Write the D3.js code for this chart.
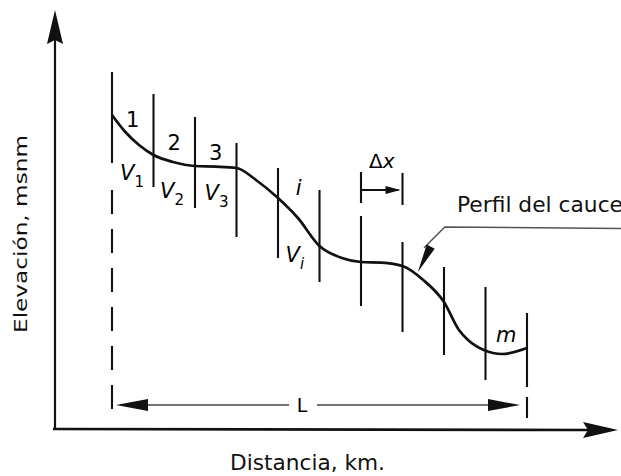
<!DOCTYPE html>
<html><head><meta charset="utf-8">
<script src="https://cdn.jsdelivr.net/npm/d3@7"></script>
<style>html,body{margin:0;padding:0;background:#fff;overflow:hidden}</style>
</head><body>
<svg id="c" width="621" height="476"></svg>
<script>
// ---- data ----
const stations = [0,1,2,3,4,5,6,7,8,9,10];           // station index (Δx units)
const sectionTop    = [89.25,83.75,78,71.5,65.25,59.75,53.25,46.75,40.5,35.5,29];
const sectionBottom = [66.5,60.5,55.25,48,42.75,36.75,30.75,24.25,18.5,12.25,10.5];
const profileKm   = [0,0.3,0.65,1,1.47,2,2.5,3,3.47,4,4.48,5,5.54,6,6.5,7,7.5,8,8.36,8.58,8.96,9.4,10];
const profileElev = [78.5,74.5,71,68.5,66.75,65.75,65.6,65.25,62.25,57.75,52.75,45.75,42.75,41.75,41.6,40.75,37.25,31.75,24.75,22.25,19.75,18.75,20.25];
const segmentLabels = ["1","2","3","i","m"];
const segmentAt     = [0.5,1.5,2.5,4.5,9.5];
const volumeSubs    = ["1","2","3","i"];
const volumeAt      = [0,1,2,4];
const xTitle = "Distancia, km.";
const yTitle = "Elevación, msnm";
const profileTitle = "Perfil del cauce";

// ---- layout ----
const axisX0 = 55, axisY0 = 429;
const x = d3.scaleLinear().domain([0,10]).range([112,527]);
const y = d3.scaleLinear().domain([0,100]).range([429,29]);
const svg = d3.select("#c");
const FONT = "DejaVu Sans, Liberation Sans, Arial, sans-serif";

// axes
svg.append("line").attr("x1",axisX0).attr("y1",axisY0+1).attr("x2",axisX0).attr("y2",40)
  .attr("stroke","#111").attr("stroke-width",2.2);
svg.append("path").attr("d",`M${axisX0},10 L${axisX0+8},44 L${axisX0},40 L${axisX0-8},44 Z`).attr("fill","#111");
svg.append("line").attr("x1",axisX0-2).attr("y1",axisY0).attr("x2",590).attr("y2",axisY0+1)
  .attr("stroke","#111").attr("stroke-width",2.6);
svg.append("path").attr("d",`M618,430 L583,422 L588,430 L583,438 Z`).attr("fill","#111");

// section lines
const sec = svg.append("g").attr("stroke","#111").attr("stroke-width",2.1);
stations.forEach((s,i)=>{
  sec.append("line").attr("x1",x(s)).attr("x2",x(s)).attr("y1",y(sectionTop[i])).attr("y2",y(sectionBottom[i]));
});
// dashed extensions to the L dimension
sec.append("line").attr("x1",x(0)).attr("x2",x(0)).attr("y1",y(59.75)).attr("y2",y(2.75))
  .attr("stroke-dasharray","24,15");
sec.append("line").attr("x1",x(10)).attr("x2",x(10)).attr("y1",y(8)).attr("y2",y(2.75));

// profile
const line = d3.line().x((d,i)=>x(profileKm[i])).y((d,i)=>y(profileElev[i])).curve(d3.curveMonotoneX);
svg.append("path").datum(profileKm).attr("d",line).attr("fill","none").attr("stroke","#111").attr("stroke-width",2.7);

// L dimension
const yL = y(6);
svg.append("line").attr("x1",x(0)+20).attr("x2",289).attr("y1",yL).attr("y2",yL).attr("stroke","#444").attr("stroke-width",1.3);
svg.append("line").attr("x1",317).attr("x2",x(10)-20).attr("y1",yL).attr("y2",yL).attr("stroke","#444").attr("stroke-width",1.3);
svg.append("path").attr("d",`M${x(0)+4},${yL} L${x(0)+36},${yL-6} L${x(0)+36},${yL+6} Z`).attr("fill","#111");
svg.append("path").attr("d",`M${x(10)-7},${yL} L${x(10)-39},${yL-6} L${x(10)-39},${yL+6} Z`).attr("fill","#111");
svg.append("text").attr("x",302).attr("y",yL+7).attr("text-anchor","middle")
  .attr("font-family",FONT).attr("font-size",19).text("L");

// Δx dimension
const yD = y(59.75);
sec.append("line").attr("x1",x(6)).attr("x2",x(6)).attr("y1",y(64.25)).attr("y2",y(56.5));
sec.append("line").attr("x1",x(7)).attr("x2",x(7)).attr("y1",y(64)).attr("y2",y(56));
svg.append("line").attr("x1",x(6)).attr("x2",x(7)-4).attr("y1",yD).attr("y2",yD).attr("stroke","#111").attr("stroke-width",1.8);
svg.append("path").attr("d",`M${x(7)-2},${yD} L${x(7)-17},${yD-4} L${x(7)-17},${yD+4} Z`).attr("fill","#111");
const dx = svg.append("text").attr("x",x(6.5)).attr("y",y(65.25)).attr("text-anchor","middle")
  .attr("font-family",FONT).attr("font-size",20);
dx.append("tspan").text("Δ");
dx.append("tspan").attr("font-style","italic").text("x");

// segment labels
segmentLabels.forEach((t,i)=>{
  const italic = isNaN(+t);
  const yy = [75.5,69.75,67.25,58.5,21.75][i];
  svg.append("text").attr("x",x(segmentAt[i])).attr("y",y(yy)).attr("text-anchor","middle")
    .attr("font-family",FONT).attr("font-size",21).attr("font-style",italic?"italic":"normal").text(t);
});

// volume labels
const vOff = [8,6.5,9.5,7.5];
const vBase = [62.25,57.75,57.25,41.75];
volumeSubs.forEach((t,i)=>{
  const tx = svg.append("text").attr("x",x(volumeAt[i])+vOff[i]).attr("y",y(vBase[i]))
    .attr("font-family",FONT).attr("font-size",21);
  tx.append("tspan").attr("font-style","italic").text("V");
  tx.append("tspan").attr("dy",7).attr("dx",0).attr("font-size",15)
    .attr("font-style",t==="i"?"italic":"normal").text(t);
});

// leader to profile
const lead = [[12.4,50.1],[8.02,50.5],[7.52,45.3]];
svg.append("path").attr("d",d3.line().x(d=>x(d[0])).y(d=>y(d[1]))(lead))
  .attr("fill","none").attr("stroke","#555").attr("stroke-width",1.5);
{
  const tip=[x(7.37),y(39.25)], base=[x(7.68),y(45.6)];
  const ang=Math.atan2(tip[1]-base[1],tip[0]-base[0]);
  const nx=-Math.sin(ang)*4.5, ny=Math.cos(ang)*4.5;
  svg.append("path").attr("d",`M${tip[0]},${tip[1]} L${base[0]+nx},${base[1]+ny} L${base[0]-nx},${base[1]-ny} Z`).attr("fill","#111");
}
svg.append("text").attr("x",457).attr("y",212).attr("font-family",FONT).attr("font-size",21.5)
  .attr("textLength",166).attr("lengthAdjust","spacingAndGlyphs").attr("fill","#111").text(profileTitle);

// titles
svg.append("text").attr("x",230).attr("y",470).attr("font-family",FONT).attr("font-size",21)
  .attr("textLength",155).attr("lengthAdjust","spacingAndGlyphs").attr("fill","#111").text(xTitle);
svg.append("text").attr("transform","translate(27,333) rotate(-90)").attr("font-family",FONT).attr("font-size",18)
  .attr("textLength",198).attr("lengthAdjust","spacingAndGlyphs").attr("fill","#111").text(yTitle);
</script>
</body></html>
